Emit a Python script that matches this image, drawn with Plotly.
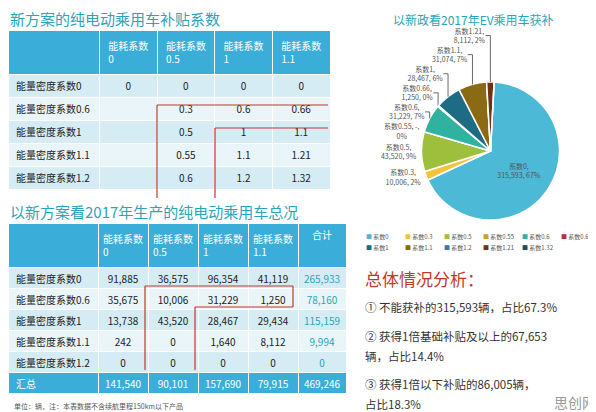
import plotly.graph_objects as go

W, H = 596, 412
def py(p): return 1 - p / H
def px(p): return p / W

BLUE = "#3aaed8"
L1 = "#d6ecf5"
L2 = "#eaf5fa"
TEAL = "#2aa5b8"
FONT = "Noto Sans CJK SC"

# ---- Table 1 data ----
t1_header = ["", "能耗系数<br>0", "能耗系数<br>0.5", "能耗系数<br>1", "能耗系数<br>1.1"]
t1_rows = ["能量密度系数0", "能量密度系数0.6", "能量密度系数1", "能量密度系数1.1", "能量密度系数1.2"]
t1_c0 = ["0", "", "", "", ""]
t1_c05 = ["0", "0.3", "0.5", "0.55", "0.6"]
t1_c1 = ["0", "0.6", "1", "1.1", "1.2"]
t1_c11 = ["0", "0.66", "1.1", "1.21", "1.32"]

# ---- Table 2 data ----
t2_header = ["", "能耗系数<br>0", "能耗系数<br>0.5", "能耗系数<br>1", "能耗系数<br>1.1", "合计"]
t2_rows = ["能量密度系数0", "能量密度系数0.6", "能量密度系数1", "能量密度系数1.1", "能量密度系数1.2", "汇总"]
t2_c0 = ["91,885", "35,675", "13,738", "242", "0", "141,540"]
t2_c05 = ["36,575", "10,006", "43,520", "0", "0", "90,101"]
t2_c1 = ["96,354", "31,229", "28,467", "1,640", "0", "157,690"]
t2_c11 = ["41,119", "1,250", "29,434", "8,112", "0", "79,915"]
t2_sum = ["265,933", "78,160", "115,159", "9,994", "0", "469,246"]

# ---- Pie data ----
pie_labels = ["系数0", "系数0.3", "系数0.5", "系数0.55", "系数0.6", "系数0.66",
              "系数1", "系数1.1", "系数1.2", "系数1.21", "系数1.32"]
pie_values = [315593, 10006, 43520, 0, 31229, 1250, 28467, 31074, 0, 8112, 0]
pie_pct = ["67%", "2%", "9%", "0%", "7%", "0%", "6%", "7%", "0%", "2%", "0%"]
pie_show = [True, True, True, True, True, True, True, True, False, True, False]
pie_colors = ["#4cb9d6", "#f3c43a", "#9dbf3c", "#c9a227", "#2fb3a0", "#b0333a",
              "#1e6b86", "#8a6a12", "#3b7a9e", "#6e3410", "#244a5a"]

fig = go.Figure()

alt = [L1, L2, L1, L2, L1]
fig.add_trace(go.Table(
    domain=dict(x=[0, px(322)], y=[py(190), py(22)]),
    columnwidth=[92, 58, 58, 58, 58],
    header=dict(values=t1_header, fill_color=BLUE, line_color="white",
                font=dict(color="white", size=10, family=FONT), height=38,
                align=["center"] * 5),
    cells=dict(values=[t1_rows, t1_c0, t1_c05, t1_c1, t1_c11],
               fill_color=[alt] * 5, line_color="white",
               font=dict(color="#222", size=10, family=FONT), height=23,
               align=["left", "center", "center", "center", "center"]),
))

alt2 = [L1, L2, L1, L2, L1, BLUE]
valfont = ["#222"] * 5 + ["white"]
fig.add_trace(go.Table(
    domain=dict(x=[0, px(338)], y=[py(392), py(215)]),
    columnwidth=[90, 50, 50, 50, 50, 48],
    header=dict(values=t2_header, fill_color=BLUE, line_color="white",
                font=dict(color="white", size=10, family=FONT), height=34,
                align=["center"] * 6),
    cells=dict(values=[t2_rows, t2_c0, t2_c05, t2_c1, t2_c11, t2_sum],
               fill_color=[alt2] * 6, line_color="white",
               font=dict(color=[valfont] * 5 + [[TEAL] * 5 + ["white"]], size=10, family=FONT),
               height=21, align=["left", "center", "center", "center", "center", "center"]),
))

texts = []
for l, v, p, s in zip(pie_labels, pie_values, pie_pct, pie_show):
    if not s:
        texts.append("")
    elif v:
        texts.append(f"{l},<br>{v:,}, {p}")
    else:
        texts.append(f"{l}, -,<br>{p}")
fig.add_trace(go.Pie(
    labels=pie_labels, values=pie_values, text=texts, textinfo="text",
    textposition=["inside"] + ["outside"] * 10, sort=False, direction="clockwise", rotation=3,
    marker=dict(colors=pie_colors, line=dict(color="white", width=1.5)),
    textfont=dict(size=7, family=FONT, color="#555"),
    insidetextorientation="horizontal", showlegend=False,
    domain=dict(x=[px(385), px(580)], y=[py(212), py(74)]),
))

# red outlines on tables
red = dict(color="#c0392b", width=1.2)
for x0, y0, x1, y1 in [(149, 97, 149, 190), (149, 97, 320, 97), (207, 120, 207, 190), (207, 120, 320, 120),
                       (137, 278, 137, 362), (137, 278, 285, 278), (285, 278, 285, 299),
                       (187, 299, 187, 362), (187, 299, 285, 299)]:
    fig.add_shape(type="line", xref="paper", yref="paper", x0=px(x0), x1=px(x1), y0=py(y0), y1=py(y1), line=red)

# custom legend (two rows)
for i, (l, c) in enumerate(zip(pie_labels, pie_colors)):
    r, k = divmod(i, 6)
    x = 356 + k * 39
    y = 228 + r * 12
    fig.add_annotation(x=px(x), y=py(y), xref="paper", yref="paper", showarrow=False,
                       text=f"<span style='color:{c}'>■</span> {l}", xanchor="left", yanchor="middle",
                       font=dict(size=6, family=FONT, color="#555"))

ann = [
    (0, 11, "新方案的纯电动乘用车补贴系数", 15, TEAL, "left"),
    (0, 203, "以新方案看2017年生产的纯电动乘用车总况", 15, TEAL, "left"),
    (4, 398, "单位：辆，注：本表数据不含续航里程150km以下产品", 7, "#555", "left"),
    (383, 12, "以新政看2017年EV乘用车获补", 12, TEAL, "left"),
    (355, 270, "总体情况分析：", 17, "#c0392b", "left"),
    (355, 299, "① 不能获补的315,593辆，占比67.3%", 11.5, "#333", "left"),
    (355, 328, "② 获得1倍基础补贴及以上的67,653", 11.5, "#333", "left"),
    (355, 348, "辆，占比14.4%", 11.5, "#333", "left"),
    (355, 376, "③ 获得1倍以下补贴的86,005辆，", 11.5, "#333", "left"),
    (355, 396, "占比18.3%", 11.5, "#333", "left"),
    (590, 394, "思创网", 14, "#999", "right"),
]
for x, y, t, s, c, a in ann:
    fig.add_annotation(x=px(x), y=py(y), xref="paper", yref="paper", text=t, showarrow=False,
                       xanchor=a, yanchor="middle", font=dict(size=s, color=c, family=FONT))

fig.update_layout(
    width=W, height=H, margin=dict(l=0, r=0, t=0, b=0, autoexpand=False),
    paper_bgcolor="white", showlegend=False,
)
fig.write_html("out.html")
